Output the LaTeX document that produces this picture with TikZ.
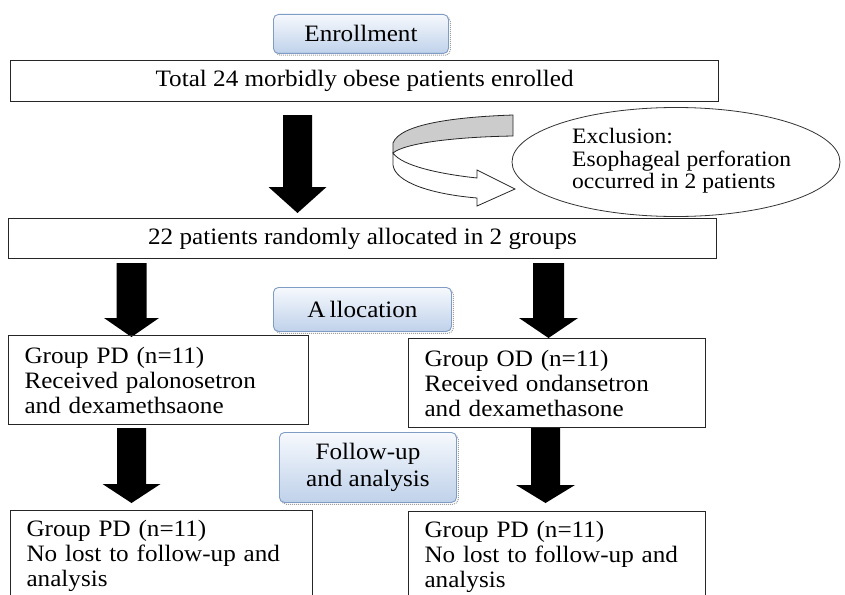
\documentclass[tikz,border=0pt]{standalone}
\usepackage{fontspec}
\setmainfont{Liberation Serif}[FakeStretch=1.07]
\usetikzlibrary{shapes.geometric,shadows}
\definecolor{bbtop}{HTML}{F6F9FD}
\definecolor{bbbot}{HTML}{BFD1EA}
\definecolor{bbline}{HTML}{7E9CC4}
\newcommand\bkarrow[6]{%
  \fill[black] (#1-#5,#2) -- (#1+#5,#2) -- (#1+#5,#3) -- (#1+#6,#3) -- (#1,#4)
    -- (#1-#6,#3) -- (#1-#5,#3) -- cycle;}
\begin{document}
\begin{tikzpicture}[x=1pt,y=-1pt,
  mainfont/.style={font=\fontsize{23.5}{25}\selectfont},
  plainbox/.style={draw=black!85, line width=1.1pt, rectangle, inner sep=0pt,
    anchor=north west, mainfont},
  leftbox/.style={plainbox, align=left, inner xsep=16pt, text width=#1},
  bluebox/.style={rectangle, rounded corners=5pt, draw=bbline, line width=0.9pt,
    top color=bbtop, bottom color=bbbot, anchor=north west, inner sep=0pt,
    align=center, mainfont,
    general shadow={shadow xshift=1.8pt, shadow yshift=-1.8pt, draw=gray!75,
      densely dotted, line width=1pt}},
  etxt/.style={font=\fontsize{22}{22.5}\selectfont, inner sep=0pt, align=left}
]
\useasboundingbox (0,0) rectangle (845,594);

% header boxes
\node[bluebox, minimum width=175pt, minimum height=39pt] (enroll) at (273,14) {Enrollment};
\node[plainbox, minimum width=708pt, minimum height=41pt] (total) at (10,60)
  {Total 24 morbidly obese patients enrolled};

% first big arrow
\bkarrow{297.5}{115}{187}{213}{14.5}{29}

% curved arrow
\path[draw=black!85, line width=0.8pt, fill=gray!40] (513,115)
  .. controls (455,117) and (400,124) .. (393,143) -- (393,153)
  .. controls (405,143) and (455,137) .. (513,136) -- cycle;
\path[draw=black!85, line width=0.8pt, fill=white] (393,153)
  .. controls (402,166) and (440,174) .. (477,178) -- (477,170) -- (515,189)
  -- (477,206) -- (477,198) .. controls (430,194) and (395,182) .. (393,165) -- cycle;

% exclusion ellipse
\node[draw=black!80, line width=0.8pt, ellipse, minimum width=328pt,
  minimum height=109pt, inner sep=0pt] (excl) at (676,162) {};
\node[etxt, anchor=west] (excltxt) at (572,161)
  {Exclusion:\\Esophageal perforation\\occurred in 2 patients};

% randomisation box
\node[plainbox, minimum width=708pt, minimum height=40pt] (rand) at (8,218)
  {22 patients randomly allocated in 2 groups};

\bkarrow{131.5}{263}{318}{337}{15}{27.5}
\bkarrow{548.5}{263}{318}{338}{15.5}{29.5}

\node[bluebox, minimum width=178pt, minimum height=44pt] (alloc) at (273,287)
  {A\kern4pt llocation};

% group boxes
\node[leftbox=268pt, minimum width=300pt, minimum height=89pt] (pd) at (8,335)
  {Group PD (n=11)\\Received palonosetron\\and dexamethsaone};
\node[leftbox=265pt, minimum width=297pt, minimum height=89pt] (od) at (408,338)
  {Group OD (n=11)\\Received ondansetron\\and dexamethasone};

\bkarrow{131.5}{428}{484}{503}{14.5}{29}
\bkarrow{545.5}{428}{485}{503}{14.5}{29.5}

\node[bluebox, minimum width=177pt, minimum height=70pt,
  font=\fontsize{23.5}{27}\selectfont] (follow) at (279,432)
  {Follow-up\\and analysis};

% outcome boxes
\node[leftbox=270pt, minimum width=302pt, minimum height=90pt] (pdout) at (10,510)
  {Group PD (n=11)\\No lost to follow-up and\\analysis};
\node[leftbox=265pt, minimum width=297pt, minimum height=90pt] (odout) at (408,511)
  {Group PD (n=11)\\No lost to follow-up and\\analysis};
\end{tikzpicture}
\end{document}
